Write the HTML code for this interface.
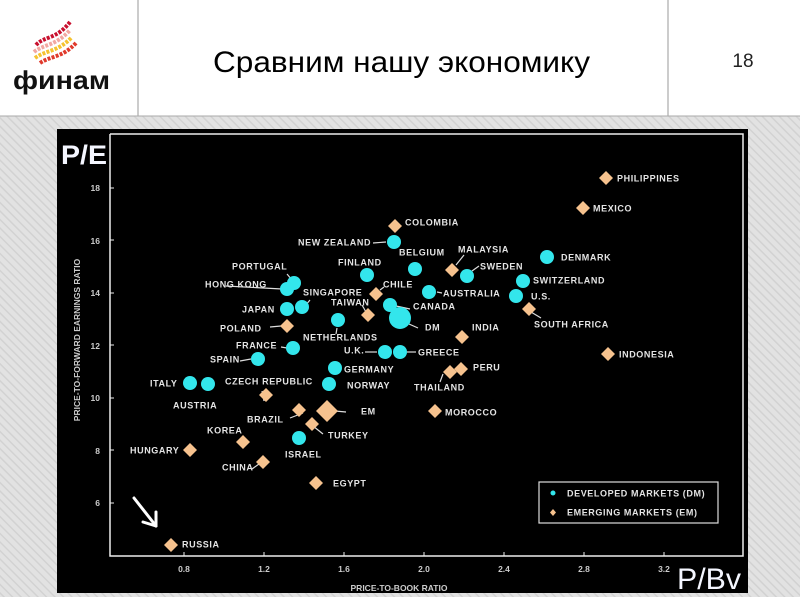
<!DOCTYPE html>
<html><head><meta charset="utf-8"><style>
html,body{margin:0;padding:0;width:800px;height:597px;overflow:hidden;background:#fff}
svg{display:block}
.l{font-family:"Liberation Sans",sans-serif;font-weight:bold;font-size:9px;fill:#e4e4e4;letter-spacing:0.6px;dominant-baseline:middle}
.t{font-family:"Liberation Sans",sans-serif;font-weight:bold;font-size:8.5px;fill:#ccc}
</style></head><body>
<svg width="800" height="597" viewBox="0 0 800 597" xmlns="http://www.w3.org/2000/svg">
<defs>
<pattern id="st" width="6" height="6" patternUnits="userSpaceOnUse" patternTransform="rotate(-45)">
<rect width="6" height="6" fill="#e2e2e2"/><rect width="1.5" height="6" fill="#d2d2d2"/>
</pattern>
</defs>
<rect x="0" y="0" width="800" height="116" fill="#fff"/>
<line x1="138" y1="0" x2="138" y2="116" stroke="#999" stroke-width="1"/>
<line x1="668" y1="0" x2="668" y2="116" stroke="#999" stroke-width="1"/>
<rect x="0" y="116" width="800" height="481" fill="url(#st)"/>
<line x1="0" y1="116" x2="800" y2="116" stroke="#aaa"/>
<!-- logo -->
<g stroke-width="4" fill="none" stroke-linecap="butt">
<path d="M36 45 C44 36,56 40,70 22" stroke="#c8102e" stroke-dasharray="3 1.3"/>
<path d="M34 52 C44 44,56 46,70 30" stroke="#f2a7a0" stroke-dasharray="3 1.3"/>
<path d="M35 58 C46 50,58 52,72 37" stroke="#f5c330" stroke-dasharray="3 1.3"/>
<path d="M40 63 C50 56,62 58,76 43" stroke="#e03a2c" stroke-dasharray="3 1.3"/>
</g>
<text x="13" y="89" textLength="97" lengthAdjust="spacingAndGlyphs" font-family="Liberation Sans,DejaVu Sans,sans-serif" font-weight="bold" font-size="26" fill="#111">финам</text>
<text x="213" y="72" textLength="377" lengthAdjust="spacingAndGlyphs" font-family="Liberation Sans,sans-serif" font-size="30" fill="#000">Сравним нашу экономику</text>
<text x="743" y="67" text-anchor="middle" font-family="Liberation Sans,sans-serif" font-size="19" fill="#222">18</text>
<!-- chart frame -->
<rect x="57" y="129" width="691" height="464" fill="#000"/>
<polyline points="110,134 110,556 743,556 743,134 110,134" fill="none" stroke="#eee" stroke-width="1.5"/>
<text x="61" y="164" textLength="46" lengthAdjust="spacingAndGlyphs" font-family="Liberation Sans,sans-serif" font-weight="bold" font-size="27" fill="#f4f6ff">P/E</text>
<text x="677" y="589" textLength="64" lengthAdjust="spacingAndGlyphs" font-family="Liberation Sans,sans-serif" font-size="30" fill="#f4f6ff">P/Bv</text>
<!-- y ticks -->
<g class="t" text-anchor="end">
<text x="100" y="191">18</text><text x="100" y="244">16</text><text x="100" y="296">14</text>
<text x="100" y="349">12</text><text x="100" y="401">10</text><text x="100" y="454">8</text><text x="100" y="506">6</text>
</g>
<g stroke="#eee"><line x1="110" y1="188" x2="114" y2="188"/><line x1="110" y1="240" x2="114" y2="240"/><line x1="110" y1="293" x2="114" y2="293"/><line x1="110" y1="345" x2="114" y2="345"/><line x1="110" y1="398" x2="114" y2="398"/><line x1="110" y1="450" x2="114" y2="450"/><line x1="110" y1="503" x2="114" y2="503"/></g>
<g class="t" text-anchor="middle">
<text x="184" y="572">0.8</text><text x="264" y="572">1.2</text><text x="344" y="572">1.6</text><text x="424" y="572">2.0</text>
<text x="504" y="572">2.4</text><text x="584" y="572">2.8</text><text x="664" y="572">3.2</text>
</g>
<g stroke="#eee"><line x1="184" y1="556" x2="184" y2="552"/><line x1="264" y1="556" x2="264" y2="552"/><line x1="344" y1="556" x2="344" y2="552"/><line x1="424" y1="556" x2="424" y2="552"/><line x1="504" y1="556" x2="504" y2="552"/><line x1="584" y1="556" x2="584" y2="552"/><line x1="664" y1="556" x2="664" y2="552"/></g>
<text x="399" y="591" text-anchor="middle" class="t" font-size="8">PRICE-TO-BOOK RATIO</text>
<text transform="translate(80,340) rotate(-90)" text-anchor="middle" class="t" font-size="8">PRICE-TO-FORWARD EARNINGS RATIO</text>
<!-- leader lines -->
<g stroke="#ddd" stroke-width="1.2">
<line x1="373" y1="243" x2="386" y2="242"/><line x1="226" y1="286" x2="282" y2="289"/><line x1="287" y1="274" x2="292" y2="280"/>
<line x1="310" y1="300" x2="305" y2="306"/><line x1="380" y1="290" x2="384" y2="287"/><line x1="362" y1="305" x2="366" y2="312"/>
<line x1="396" y1="306" x2="410" y2="309"/><line x1="409" y1="324" x2="418" y2="328"/><line x1="270" y1="327" x2="281" y2="326"/>
<line x1="337" y1="328" x2="336" y2="334"/><line x1="281" y1="347" x2="287" y2="348"/><line x1="240" y1="361" x2="251" y2="359"/>
<line x1="365" y1="352" x2="377" y2="352"/><line x1="407" y1="352" x2="416" y2="352"/><line x1="437" y1="292" x2="442" y2="293"/>
<line x1="472" y1="271" x2="479" y2="266"/><line x1="456" y1="265" x2="464" y2="255"/><line x1="531" y1="312" x2="541" y2="318"/>
<line x1="264" y1="401" x2="262" y2="391"/><line x1="303" y1="413" x2="290" y2="418"/><line x1="313" y1="426" x2="323" y2="434"/>
<line x1="335" y1="411" x2="346" y2="412"/><line x1="259" y1="464" x2="252" y2="469"/><line x1="443" y1="374" x2="440" y2="382"/>
</g>
<!-- legend -->
<rect x="539" y="482" width="179" height="41" fill="#000" stroke="#ddd" stroke-width="1.2"/>
<g class="l" font-size="8.5"><text x="567" y="494">DEVELOPED MARKETS (DM)</text><text x="567" y="513">EMERGING MARKETS (EM)</text></g>
<!-- DM circles -->
<g fill="#33e6ec">
<circle cx="294" cy="283" r="7"/><circle cx="287" cy="289" r="7"/><circle cx="302" cy="307" r="7"/><circle cx="287" cy="309" r="7"/>
<circle cx="367" cy="275" r="7"/><circle cx="394" cy="242" r="7"/><circle cx="415" cy="269" r="7"/><circle cx="467" cy="276" r="7"/>
<circle cx="429" cy="292" r="7"/><circle cx="390" cy="305" r="7"/><circle cx="400" cy="318" r="11"/><circle cx="338" cy="320" r="7"/>
<circle cx="293" cy="348" r="7"/><circle cx="258" cy="359" r="7"/><circle cx="385" cy="352" r="7"/><circle cx="400" cy="352" r="7"/>
<circle cx="335" cy="368" r="7"/><circle cx="329" cy="384" r="7"/><circle cx="190" cy="383" r="7"/><circle cx="208" cy="384" r="7"/>
<circle cx="299" cy="438" r="7"/><circle cx="547" cy="257" r="7"/><circle cx="523" cy="281" r="7"/><circle cx="516" cy="296" r="7"/>
<circle cx="553" cy="493" r="2.5"/>
</g>
<!-- EM diamonds -->
<g fill="#f6c28e">
<path d="M395 219l7 7-7 7-7-7z"/><path d="M376 287l7 7-7 7-7-7z"/><path d="M368 308l7 7-7 7-7-7z"/><path d="M452 263l7 7-7 7-7-7z"/>
<path d="M462 330l7 7-7 7-7-7z"/><path d="M287 319l7 7-7 7-7-7z"/><path d="M266 388l7 7-7 7-7-7z"/><path d="M299 403l7 7-7 7-7-7z"/>
<path d="M327 400l11 11-11 11-11-11z"/><path d="M312 417l7 7-7 7-7-7z"/><path d="M243 435l7 7-7 7-7-7z"/><path d="M190 443l7 7-7 7-7-7z"/>
<path d="M263 455l7 7-7 7-7-7z"/><path d="M316 476l7 7-7 7-7-7z"/><path d="M461 362l7 7-7 7-7-7z"/><path d="M450 365l7 7-7 7-7-7z"/>
<path d="M435 404l7 7-7 7-7-7z"/><path d="M171 538l7 7-7 7-7-7z"/><path d="M606 171l7 7-7 7-7-7z"/><path d="M583 201l7 7-7 7-7-7z"/>
<path d="M608 347l7 7-7 7-7-7z"/><path d="M529 302l7 7-7 7-7-7z"/>
<path d="M553 509l3 3.5-3 3.5-3-3.5z"/>
</g>
<!-- labels -->
<g class="l">
<text x="617" y="179">PHILIPPINES</text><text x="593" y="209">MEXICO</text><text x="405" y="223">COLOMBIA</text>
<text x="298" y="243">NEW ZEALAND</text><text x="458" y="250">MALAYSIA</text><text x="561" y="258">DENMARK</text>
<text x="399" y="253">BELGIUM</text><text x="338" y="263">FINLAND</text><text x="480" y="267">SWEDEN</text>
<text x="232" y="267">PORTUGAL</text><text x="205" y="285">HONG KONG</text><text x="533" y="281">SWITZERLAND</text>
<text x="383" y="285">CHILE</text><text x="443" y="294">AUSTRALIA</text><text x="303" y="293">SINGAPORE</text>
<text x="531" y="297">U.S.</text><text x="331" y="303">TAIWAN</text><text x="413" y="307">CANADA</text>
<text x="242" y="310">JAPAN</text><text x="220" y="329">POLAND</text><text x="425" y="328">DM</text>
<text x="472" y="328">INDIA</text><text x="303" y="338">NETHERLANDS</text><text x="534" y="325">SOUTH AFRICA</text>
<text x="236" y="346">FRANCE</text><text x="344" y="351">U.K.</text><text x="418" y="353">GREECE</text>
<text x="619" y="355">INDONESIA</text><text x="210" y="360">SPAIN</text><text x="344" y="370">GERMANY</text>
<text x="473" y="368">PERU</text><text x="150" y="384">ITALY</text><text x="347" y="386">NORWAY</text>
<text x="414" y="388">THAILAND</text><text x="225" y="382">CZECH REPUBLIC</text><text x="173" y="406">AUSTRIA</text>
<text x="247" y="420">BRAZIL</text><text x="361" y="412">EM</text><text x="445" y="413">MOROCCO</text>
<text x="207" y="431">KOREA</text><text x="328" y="436">TURKEY</text><text x="130" y="451">HUNGARY</text>
<text x="285" y="455">ISRAEL</text><text x="222" y="468">CHINA</text><text x="333" y="484">EGYPT</text>
<text x="182" y="545">RUSSIA</text>
</g>
<!-- arrow -->
<g stroke="#fff" stroke-width="3" fill="none" stroke-linecap="round">
<line x1="134" y1="498" x2="156" y2="526"/><line x1="156" y1="526" x2="156" y2="512"/><line x1="156" y1="526" x2="143" y2="522"/>
</g>
</svg>
</body></html>
